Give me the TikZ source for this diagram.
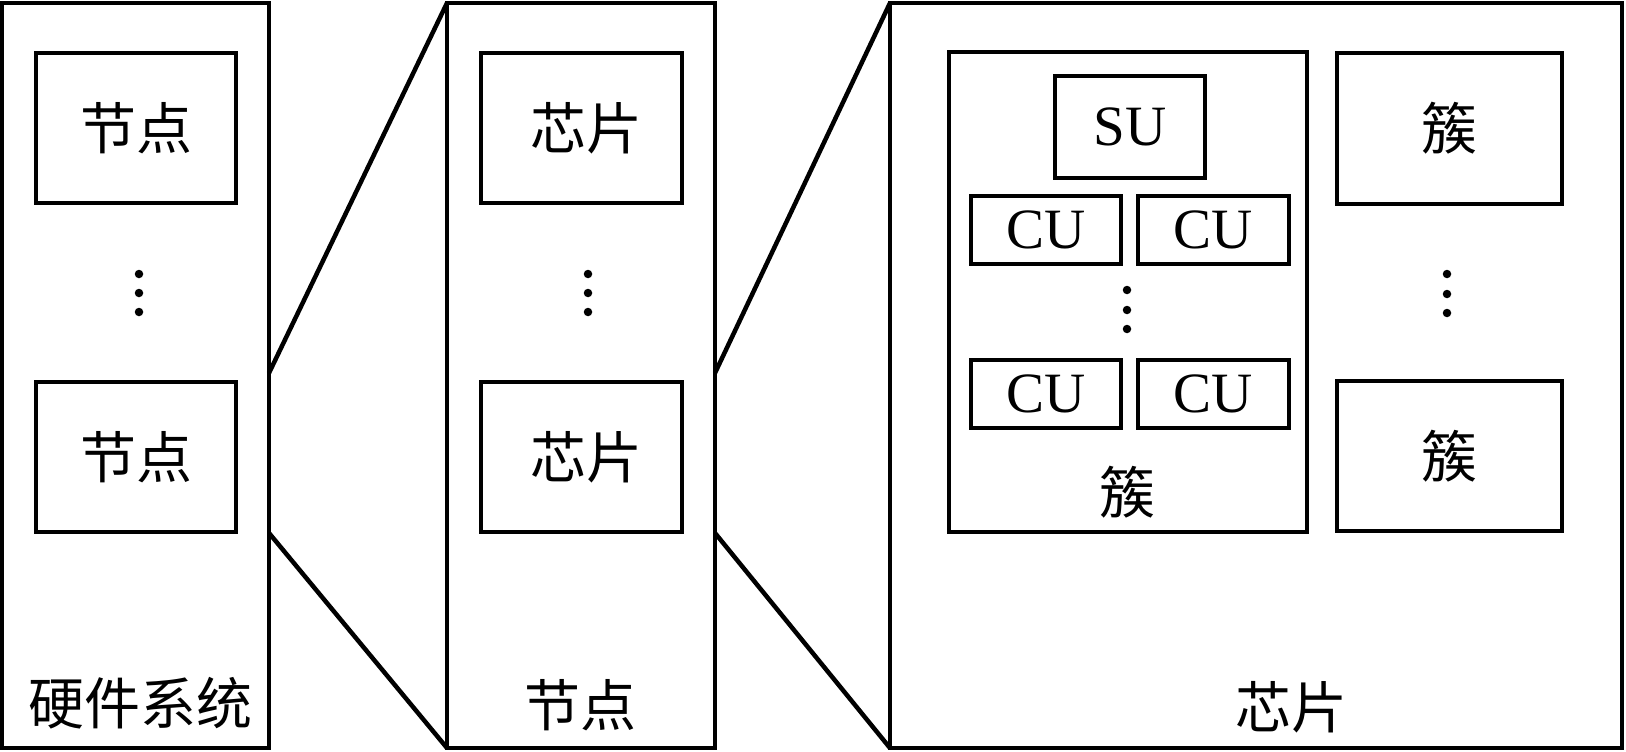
\documentclass[tikz,border=0pt]{standalone}
\usepackage{fontspec}
\setmainfont{Liberation Serif}
\newfontfamily\cjk{Noto Sans CJK SC}
\begin{document}
\begin{tikzpicture}[x=1pt,y=-1pt,
  box/.style={draw, line width=4.5pt, inner sep=0pt, outer sep=0pt},
  lbl/.style={inner sep=0pt, font=\cjk\fontsize{56}{60}\selectfont},
  lat/.style={font=\fontsize{57}{60}\selectfont},
  conn/.style={line width=4.5pt},
  dot/.style={circle, fill, inner sep=0pt, minimum size=8.5pt}]
\useasboundingbox (0,0) rectangle (1626,752);
% outer boxes
\node[box, minimum width=267pt, minimum height=745pt] (sys) at (135.5,375.5) {};
\node[box, minimum width=268pt, minimum height=745pt] (nd) at (581,375.5) {};
\node[box, minimum width=732pt, minimum height=745pt] (chip) at (1256,375.5) {};
% system contents
\node[box, lbl, minimum width=200pt, minimum height=150pt] (n1) at (136,128) {节点};
\node[box, lbl, minimum width=200pt, minimum height=150pt] (n2) at (136,457) {节点};
\node[dot] (d11) at (139,274) {};
\node[dot] (d12) at (139,293) {};
\node[dot] (d13) at (139,312) {};
\node[lbl] (syslbl) at (140,703) {硬件系统};
% node contents
\node[box, lbl, minimum width=201pt, minimum height=150pt] (c1) at (581.5,128) {\hspace*{10pt}芯片};
\node[box, lbl, minimum width=201pt, minimum height=150pt] (c2) at (581.5,457) {\hspace*{10pt}芯片};
\node[dot] (d21) at (588,274) {};
\node[dot] (d22) at (588,293) {};
\node[dot] (d23) at (588,312) {};
\node[lbl] (ndlbl) at (580,705) {节点};
% chip contents
\node[box, minimum width=358pt, minimum height=480pt] (cl) at (1128,292) {};
\node[box, lat, minimum width=150pt, minimum height=102pt] (su) at (1130,127) {SU};
\node[box, lat, minimum width=150pt, minimum height=68pt] (cu11) at (1046,230) {CU};
\node[box, lat, minimum width=151pt, minimum height=68pt] (cu12) at (1213.5,230) {CU};
\node[box, lat, minimum width=150pt, minimum height=68pt] (cu21) at (1046,394) {CU};
\node[box, lat, minimum width=151pt, minimum height=68pt] (cu22) at (1213.5,394) {CU};
\node[dot] (d31) at (1127,290) {};
\node[dot] (d32) at (1127,310) {};
\node[dot] (d33) at (1127,329) {};
\node[lbl] (cllbl) at (1127,492) {簇};
\node[box, lbl, minimum width=225pt, minimum height=151pt] (cr1) at (1449.5,128.5) {簇};
\node[box, lbl, minimum width=225pt, minimum height=150pt] (cr2) at (1449.5,456) {簇};
\node[dot] (d41) at (1447,274) {};
\node[dot] (d42) at (1447,294) {};
\node[dot] (d43) at (1447,313) {};
\node[lbl] (chiplbl) at (1291,707) {芯片};
% zoom connectors
\coordinate (p1) at (269,373);
\coordinate (p2) at (269,533);
\coordinate (q1) at (715,373);
\coordinate (q2) at (715,533);
\draw[conn] (p1) -- (nd.north west);
\draw[conn] (p2) -- (nd.south west);
\draw[conn] (q1) -- (chip.north west);
\draw[conn] (q2) -- (chip.south west);
\end{tikzpicture}
\end{document}
